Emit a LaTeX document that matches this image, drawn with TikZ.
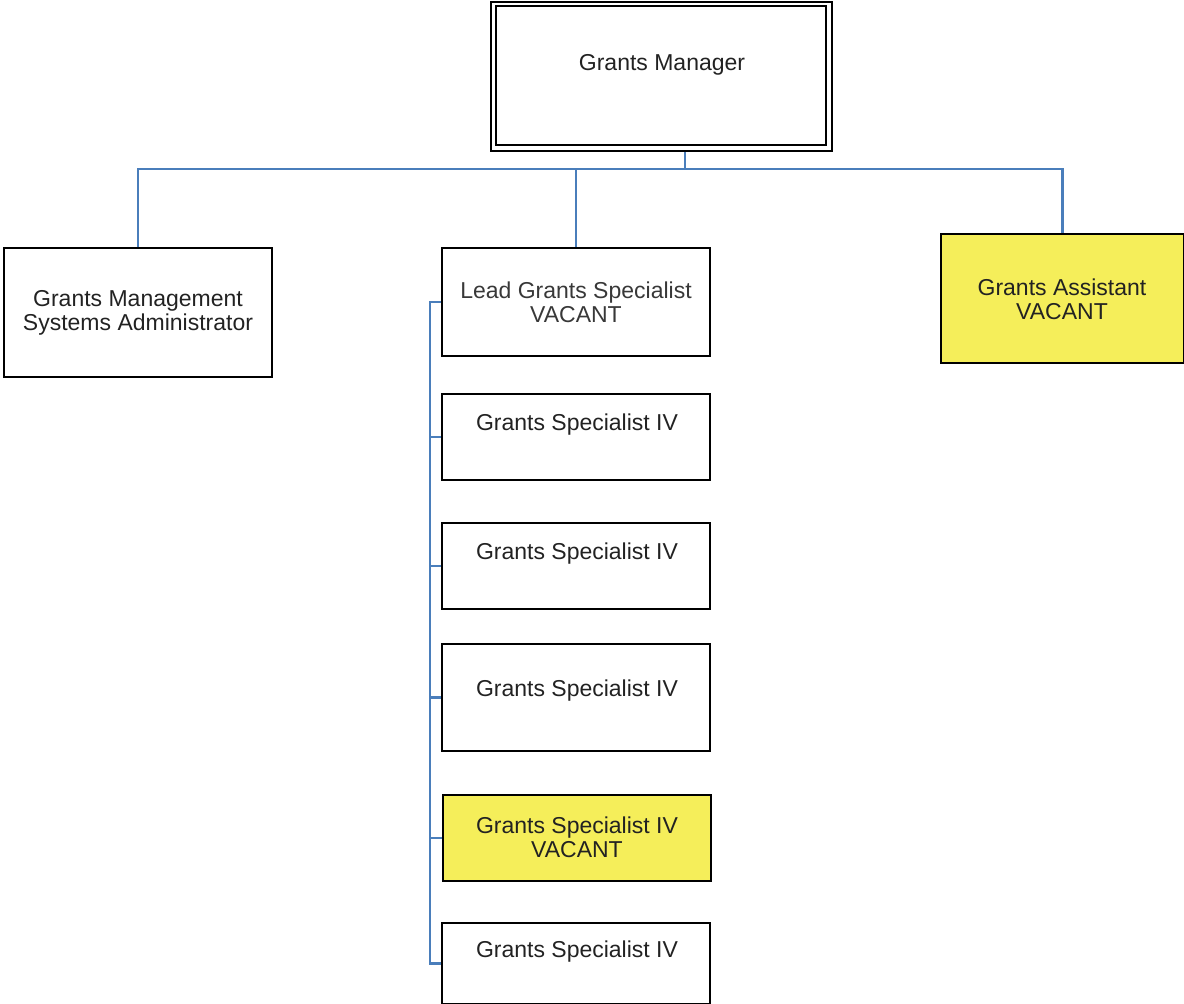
\documentclass[tikz,border=0pt]{standalone}
\usepackage{fontspec}
\setmainfont{Liberation Sans}
\definecolor{linkblue}{HTML}{4A7EBB}
\definecolor{vacant}{HTML}{F5EE5A}
\definecolor{txt}{HTML}{222222}
\begin{document}
\begin{tikzpicture}[x=1pt,y=-1pt,
  box/.style={draw=black,line width=2pt,anchor=north west,inner sep=0pt},
  vbox/.style={box,fill=vacant},
  lbl/.style={text=txt,font=\fontsize{23}{24}\selectfont,align=center,inner sep=0pt},
  link/.style={draw=linkblue,line width=2.2pt}]
\useasboundingbox (0,0) rectangle (1184,1004);
% Grants Manager (double border)
\node[box,minimum width=341pt,minimum height=149pt] (gm) at (490,1) {};
\draw[line width=2pt] (496,6) rectangle (826,145);
\node[lbl] (gmt) at (662,65) {Grants Manager};
% second level
\node[box,minimum width=268pt,minimum height=129pt] (gmsa) at (3,247) {};
\node[lbl] (gmsat) at (138,313) {Grants Management\\Systems Administrator};
\node[box,minimum width=268pt,minimum height=108pt] (lead) at (441,247) {};
\node[lbl,text=black!78] (leadt) at (576,302) {Lead Grants Specialist\\VACANT};
\node[vbox,minimum width=243pt,minimum height=129pt] (asst) at (940,233) {};
\node[lbl] (asstt) at (1062,299) {Grants Assistant\\VACANT};
% specialists
\node[box,minimum width=268pt,minimum height=86pt] (gs1) at (441,393) {};
\node[lbl] (gs1t) at (577,425) {Grants Specialist IV};
\node[box,minimum width=268pt,minimum height=86pt] (gs2) at (441,522) {};
\node[lbl] (gs2t) at (577,554) {Grants Specialist IV};
\node[box,minimum width=268pt,minimum height=107pt] (gs3) at (441,643) {};
\node[lbl] (gs3t) at (577,691) {Grants Specialist IV};
\node[vbox,minimum width=268pt,minimum height=86pt] (gs4) at (442,794) {};
\node[lbl] (gs4t) at (577,837) {Grants Specialist IV\\VACANT};
\node[box,minimum width=268pt,minimum height=81pt] (gs5) at (441,922) {};
\node[lbl] (gs5t) at (577,952) {Grants Specialist IV};
% connectors
\coordinate (bus) at (685,169);
\coordinate (spine) at (430,301);
\draw[link] (gm.south -| bus) -- (bus);
\draw[link] (gmsa.north) -- (gmsa.north |- bus) -- (asst.north |- bus) -- (asst.north);
\draw[link] (lead.north) -- (lead.north |- bus);
\draw[link] (lead.west) -- (lead.west -| spine) -- (gs5.west -| spine) -- (gs5.west);
\draw[link] (gs1.west -| spine) -- (gs1.west);
\draw[link] (gs2.west -| spine) -- (gs2.west);
\draw[link] (gs3.west -| spine) -- (gs3.west);
\draw[link] (gs4.west -| spine) -- (gs4.west);
\end{tikzpicture}
\end{document}
